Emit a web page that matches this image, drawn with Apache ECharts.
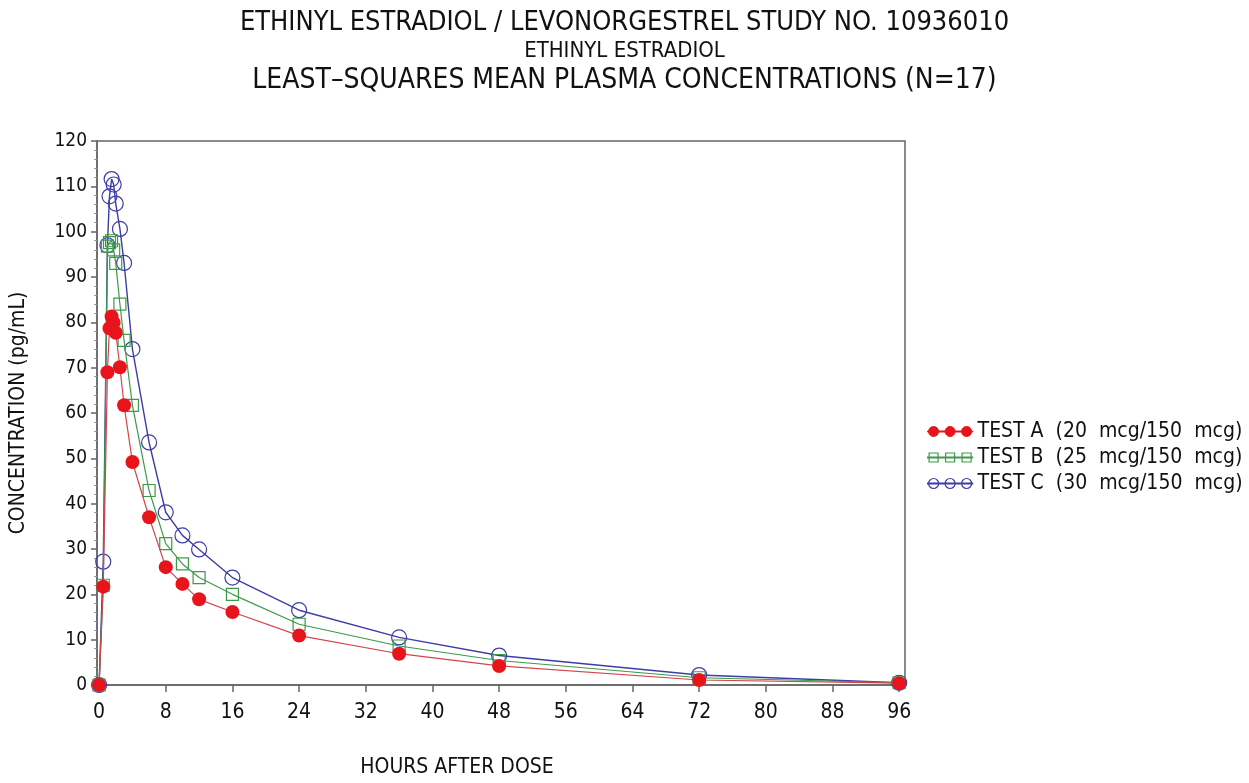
<!DOCTYPE html>
<html>
<head>
<meta charset="utf-8">
<script src="https://cdn.jsdelivr.net/npm/echarts@6/dist/echarts.min.js"></script>
<style>
html,body{margin:0;padding:0;background:#fff}
#chart{width:1249px;height:783px}
</style>
</head>
<body>
<div id="chart"></div>
<script>
// sampling times (h) and LS mean concentrations (pg/mL)
const hours = [0, 0.5, 1, 1.25, 1.5, 1.75, 2, 2.5, 3, 4, 6, 8, 10, 12, 16, 24, 36, 48, 72, 96]
const testA = [0, 21.7, 69, 78.7, 81.3, 79.9, 77.7, 70.1, 61.7, 49.2, 37.0, 26.0, 22.3, 18.9, 16.1, 10.9, 6.9, 4.2, 1.1, 0.4]
const testB = [0, 22, 96.8, 97.6, 98, 96, 93, 84, 76, 61.7, 42.9, 31.2, 26.7, 23.7, 20.0, 13.4, 8.6, 5.4, 1.6, 0.5]
const testC = [0, 27.2, 97, 107.8, 111.6, 110.4, 106.2, 100.6, 93.1, 74.1, 53.5, 38.1, 33.0, 29.9, 23.7, 16.5, 10.5, 6.5, 2.2, 0.5]
const xTicks = [0, 8, 16, 24, 32, 40, 48, 56, 64, 72, 80, 88, 96]
const names = ['TEST A  (20  mcg/150  mcg)', 'TEST B  (25  mcg/150  mcg)', 'TEST C  (30  mcg/150  mcg)']

const FONT = "'DejaVu Sans Condensed', 'Liberation Sans', sans-serif"
const RED = '#e8141c', GREEN = '#3d9a48', BLUE = '#3c3caa'

const pair = (ys) => hours.map((h, i) => [h, ys[i]])

// legend icons: three markers on a line
const circ = (cx) => `M${cx - 5},6 A5,5 0 1,1 ${cx + 5},6 A5,5 0 1,1 ${cx - 5},6 Z `
const sq = (cx) => `M${cx - 4.5},1.5 L${cx + 4.5},1.5 L${cx + 4.5},10.5 L${cx - 4.5},10.5 Z `
const bar = 'M0,5.5 L45,5.5 L45,6.5 L0,6.5 Z '
const iconCirc = 'path://' + bar + circ(6) + circ(22.5) + circ(39)
const iconSq = 'path://' + bar + sq(6) + sq(22.5) + sq(39)

const chart = echarts.init(document.getElementById('chart'))
const option = {
  animation: false,
  backgroundColor: '#fff',
  title: [
    {text: 'ETHINYL ESTRADIOL / LEVONORGESTREL STUDY NO. 10936010', left: 'center', top: 4,
      textStyle: {fontFamily: FONT, fontSize: 27, fontWeight: 'normal', color: '#111'}},
    {text: 'ETHINYL ESTRADIOL', left: 'center', top: 35,
      textStyle: {fontFamily: FONT, fontSize: 22, fontWeight: 'normal', color: '#111'}},
    {text: 'LEAST–SQUARES MEAN PLASMA CONCENTRATIONS (N=17)', left: 'center', top: 62,
      textStyle: {fontFamily: FONT, fontSize: 28, fontWeight: 'normal', color: '#111'}}
  ],
  legend: {
    orient: 'vertical',
    left: 922,
    top: 416,
    itemWidth: 45,
    itemHeight: 12,
    itemGap: 5,
    textStyle: {fontFamily: FONT, fontSize: 21, color: '#111'},
    data: [
      {name: names[0], icon: iconCirc, itemStyle: {color: RED, borderColor: RED, borderWidth: 1}},
      {name: names[1], icon: iconSq, itemStyle: {color: '#fff', borderColor: GREEN, borderWidth: 1.2}},
      {name: names[2], icon: iconCirc, itemStyle: {color: '#fff', borderColor: BLUE, borderWidth: 1.2}}
    ]
  },
  grid: {
    left: 97, top: 141, width: 808, height: 551,
    show: true, borderColor: '#666', borderWidth: 1.5, backgroundColor: 'transparent'
  },
  xAxis: {
    type: 'value',
    min: -0.25, max: 96.7,
    name: 'HOURS AFTER DOSE',
    nameLocation: 'middle',
    nameGap: 72,
    nameTextStyle: {fontFamily: FONT, fontSize: 21, color: '#111', padding: [0, 88, 0, 0]},
    axisLine: {show: true, onZero: false, lineStyle: {color: '#666', width: 1.5}},
    axisTick: {show: true, customValues: xTicks, length: 7, lineStyle: {color: '#666', width: 1.5}},
    axisLabel: {customValues: xTicks, fontFamily: FONT, fontSize: 21, color: '#111', margin: 17},
    splitLine: {show: false}
  },
  yAxis: {
    type: 'value',
    min: 0, max: 120, interval: 10,
    name: 'CONCENTRATION (pg/mL)',
    nameLocation: 'middle',
    nameGap: 68,
    nameTextStyle: {fontFamily: FONT, fontSize: 21, color: '#111'},
    axisLine: {show: true, onZero: false, lineStyle: {color: '#666', width: 1.5}},
    axisTick: {show: true, length: 6, lineStyle: {color: '#666', width: 1.5}},
    minorTick: {show: true, splitNumber: 5, length: 3, lineStyle: {color: '#999'}},
    axisLabel: {fontFamily: FONT, fontSize: 19, color: '#111', margin: 10},
    splitLine: {show: false}
  },
  series: [
    {
      name: names[0], type: 'line', z: 4,
      data: pair(testA),
      symbol: 'circle', symbolSize: 14,
      itemStyle: {color: RED},
      lineStyle: {color: '#d2454a', width: 1.2}
    },
    {
      name: names[1], type: 'line', z: 3,
      data: pair(testB),
      symbol: 'rect', symbolSize: 12,
      itemStyle: {color: 'rgba(255,255,255,0)', borderColor: GREEN, borderWidth: 1.2},
      lineStyle: {color: GREEN, width: 1.2}
    },
    {
      name: names[2], type: 'line', z: 2,
      data: pair(testC),
      symbol: 'circle', symbolSize: 15,
      itemStyle: {color: 'rgba(255,255,255,0)', borderColor: BLUE, borderWidth: 1.2},
      lineStyle: {color: BLUE, width: 1.4}
    }
  ]
}
chart.setOption(option)
</script>
</body>
</html>
